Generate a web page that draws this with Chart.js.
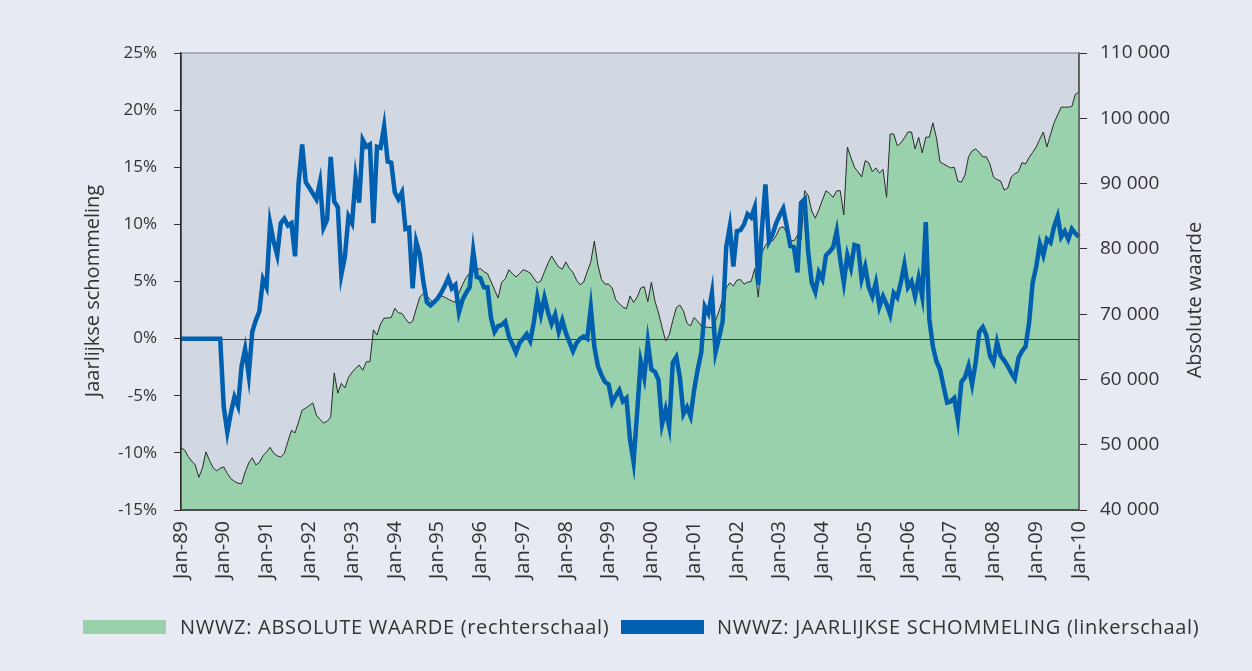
<!DOCTYPE html>
<html><head><meta charset="utf-8">
<script src="https://cdn.jsdelivr.net/npm/chart.js@4.4.1/dist/chart.umd.min.js"></script>
<style>
html,body{margin:0;padding:0;background:#e7eaf2;}
#wrap{position:relative;width:1252px;height:671px;background:#e7eaf2;font-family:'Open Sans',sans-serif;color:#333;overflow:hidden;}
canvas{position:absolute;left:0;top:0;}
.leg{position:absolute;top:613px;font-size:20px;letter-spacing:0.7px;line-height:28px;color:#333;white-space:nowrap;}
.box{position:absolute;top:620px;width:83px;height:14px;}
</style></head>
<body><div id="wrap"><canvas id="c" width="1252" height="671"></canvas>
<div class="box" style="left:83px;background:#99d1ac"></div>
<div class="leg" style="left:180px">NWWZ: ABSOLUTE WAARDE (rechterschaal)</div>
<div class="box" style="left:621px;background:#005fae"></div>
<div class="leg" style="left:717px">NWWZ: JAARLIJKSE SCHOMMELING (linkerschaal)</div>
</div>
<script>
const monthNames = ['Jan','Feb','Mar','Apr','May','Jun','Jul','Aug','Sep','Oct','Nov','Dec'];
const yearLabels = ['89','90','91','92','93','94','95','96','97','98','99','00','01','02','03','04','05','06','07','08','09','10'];

// Absolute waarde (right axis), monthly Jan-89 .. Jan-10
const absoluteWaarde = [
 49500,49200,48200,47500,46900,45000,46400,48900,47600,46500,46000,46400,
 46600,45600,44800,44400,44100,44000,45800,47200,48000,46900,47300,48300,
 48900,49600,48700,48300,48100,48700,50500,52200,51800,53500,55300,55600,
 56000,56400,54500,53900,53300,53600,54200,61000,57900,59400,58700,60300,
 61100,61700,62200,61400,62700,62700,67600,66800,68500,69400,69400,69500,
 70900,70200,70100,69300,68600,68900,70800,72600,73200,72800,72200,71700,
 72900,72800,72600,72300,72000,71800,73200,74500,75600,76300,76500,76800,
 77000,76500,76200,75000,73700,72500,74900,75400,76800,76200,75700,76200,
 76800,76600,76300,75500,74800,75100,76500,77800,78900,78000,77200,76900,
 78000,77000,76400,75200,74500,74900,76500,78000,81200,77500,75300,74600,
 74600,74000,72200,71600,71100,70800,72800,71800,72600,74000,74200,71900,
 74900,72000,70200,68000,65900,66800,69000,71000,71400,70500,68600,68200,
 69500,68900,68200,68000,68000,67900,69000,70500,72300,74000,74800,74300,
 75200,75300,74600,74900,75000,77000,72600,79400,80500,81300,81200,82000,
 83200,83400,82500,81400,81200,82100,81400,88900,88200,85800,84700,86000,
 87500,88900,88500,87900,88900,88900,85200,95600,94000,92500,91800,91000,
 93500,93200,91800,92400,91600,92200,87900,97600,97600,95800,96200,97000,
 97900,97900,95300,97100,94700,97100,97100,99300,97000,93300,93000,92700,
 92400,92500,90400,90200,91300,94100,95000,95300,94800,94100,94100,93000,
 91000,90600,90400,89000,89300,91000,91500,91800,93200,93000,94000,94800,
 95600,96800,97900,95600,97500,99300,100500,101700,101700,101700,101800,103700,
 104000
];

// Jaarlijkse schommeling in % (left axis)
const jaarlijkseSchommeling = [
 0,0,0,0,0,0,0,0,0,0,0,0,
 -6.0,-8.2,-6.5,-5.1,-5.9,-2.4,-0.9,-3.2,0.6,1.6,2.4,5.2,
 4.5,10.1,8.5,7.3,10.1,10.5,9.9,10.1,7.2,13.6,17.0,13.7,
 13.2,12.7,12.2,13.7,9.7,10.4,15.9,12.0,11.5,5.6,7.2,10.7,
 10.1,14.1,11.9,17.4,16.8,17.0,10.1,16.8,16.7,18.6,15.5,15.4,
 12.8,12.2,12.8,9.6,9.7,4.4,8.5,7.4,5.0,3.2,2.9,3.2,
 3.5,4.0,4.6,5.3,4.4,4.7,2.3,3.4,4.0,4.5,7.7,5.4,
 5.3,4.5,4.5,1.8,0.6,1.1,1.2,1.5,0.2,-0.5,-1.2,-0.4,
 0.0,0.4,-0.2,1.4,3.6,2.1,3.6,2.3,1.3,2.1,0.6,1.6,
 0.5,-0.3,-1.1,-0.4,0.0,0.2,0.0,2.7,-0.7,-2.4,-3.2,-3.8,
 -4.0,-5.6,-5.0,-4.5,-5.5,-5.2,-8.8,-10.8,-6.5,-2.0,-3.4,-0.3,
 -2.7,-2.9,-3.6,-7.5,-6.2,-7.7,-2.1,-1.6,-3.4,-6.6,-6.0,-6.8,
 -4.5,-2.7,-1.2,2.8,2.2,4.0,-1.2,0.1,1.5,8.0,9.8,6.3,
 9.4,9.5,10.0,10.9,10.6,11.5,4.7,9.5,13.5,8.5,9.1,10.1,
 10.8,11.4,9.8,8.1,8.0,5.8,11.9,12.2,7.6,4.9,4.1,5.8,
 5.2,7.3,7.6,8.0,9.4,6.9,4.9,7.3,6.2,8.2,8.1,5.2,
 6.3,4.5,3.7,4.9,2.8,3.7,3.0,2.1,4.0,3.6,4.9,6.5,
 4.5,5.0,3.7,5.3,3.7,10.2,1.7,-0.7,-2.0,-2.7,-4.2,-5.6,
 -5.5,-5.2,-7.1,-3.8,-3.4,-2.4,-4.0,-2.1,0.6,1.0,0.3,-1.5,
 -2.1,-0.3,-1.5,-1.9,-2.4,-3.0,-3.5,-1.7,-1.1,-0.7,1.4,4.9,
 6.3,8.3,7.3,8.7,8.4,9.8,10.7,8.9,9.4,8.7,9.6,9.2,
 8.9
];

const labels = [];
for (let y = 0; y < yearLabels.length; y++) {
  for (let m = 0; m < 12; m++) {
    if (labels.length < absoluteWaarde.length) labels.push(monthNames[m] + '-' + yearLabels[y]);
  }
}

const textColor = '#333';
const fontFamily = "'Open Sans', sans-serif";

const bgPlugin = {
  id: 'plotbg',
  beforeDraw(chart) {
    const {ctx, chartArea: a} = chart;
    ctx.save();
    ctx.fillStyle = '#d2d8e2';
    ctx.fillRect(a.left, a.top, a.right - a.left, a.bottom - a.top);
    ctx.restore();
  }
};
const zeroPlugin = {
  id: 'zeroline',
  afterDatasetDraw(chart, args) {
    if (args.index !== 1) return;
    const {ctx, chartArea: a} = chart;
    const y = Math.round(chart.scales.y.getPixelForValue(0)) + 0.5;
    ctx.save();
    ctx.strokeStyle = '#3a3a3a';
    ctx.lineWidth = 1.2;
    ctx.beginPath(); ctx.moveTo(a.left, y); ctx.lineTo(a.right, y); ctx.stroke();
    ctx.restore();
  }
};
const framePlugin = {
  id: 'frame',
  afterDraw(chart) {
    const {ctx, chartArea: a} = chart;
    ctx.save();
    ctx.strokeStyle = '#9a9ca2';
    ctx.lineWidth = 1.5;
    ctx.beginPath(); ctx.moveTo(a.left, a.top); ctx.lineTo(a.right, a.top); ctx.stroke();
    ctx.strokeStyle = '#2a2a2a';
    ctx.lineWidth = 1.3;
    ctx.beginPath(); ctx.moveTo(a.left, a.top); ctx.lineTo(a.left, a.bottom); ctx.lineTo(a.right, a.bottom); ctx.stroke();
    ctx.strokeStyle = '#5a5a5a';
    ctx.lineWidth = 1.5;
    ctx.beginPath(); ctx.moveTo(a.right, a.top); ctx.lineTo(a.right, a.bottom); ctx.stroke();
    ctx.fillStyle = textColor;
    ctx.font = "20px " + fontFamily;
    ctx.textAlign = 'center';
    ctx.textBaseline = 'middle';
    ctx.save(); ctx.translate(93, 291); ctx.rotate(-Math.PI/2); ctx.fillText('Jaarlijkse schommeling', 0, 0); ctx.restore();
    ctx.save(); ctx.translate(1195, 300); ctx.rotate(-Math.PI/2); ctx.fillText('Absolute waarde', 0, 0); ctx.restore();
    ctx.restore();
  }
};

new Chart(document.getElementById('c'), {
  type: 'line',
  data: {
    labels: labels,
    datasets: [
      {
        label: 'NWWZ: JAARLIJKSE SCHOMMELING (linkerschaal)',
        data: jaarlijkseSchommeling,
        yAxisID: 'y',
        borderColor: '#005fae',
        borderWidth: 4.5,
        pointRadius: 0,
        tension: 0,
        fill: false
      },
      {
        label: 'NWWZ: ABSOLUTE WAARDE (rechterschaal)',
        data: absoluteWaarde,
        yAxisID: 'y1',
        borderColor: '#2a2a2a',
        borderWidth: 1,
        backgroundColor: '#99d1ac',
        pointRadius: 0,
        tension: 0,
        fill: 'start'
      }
    ]
  },
  options: {
    responsive: false,
    animation: false,
    devicePixelRatio: 1,
    layout: { padding: { top: 53, left: 0, right: 0, bottom: 0 } },
    plugins: { legend: { display: false }, tooltip: { enabled: false } },
    scales: {
      x: {
        type: 'category',
        grid: { display: true, drawOnChartArea: false, drawTicks: false },
        border: { display: true, color: '#2a2a2a', width: 1.3 },
        ticks: {
          autoSkip: false, maxRotation: 90, minRotation: 90, padding: 11,
          color: textColor, font: { family: fontFamily, size: 20 },
          callback: function(v, i) { return i % 12 === 0 ? this.getLabelForValue(v) : null; }
        },
        afterFit(s) { s.height = 161; }
      },
      y: {
        position: 'left', min: -15, max: 25,
        ticks: { stepSize: 5, padding: 17, color: textColor, font: { family: fontFamily, size: 17 },
          callback: v => v + '%' },
        grid: { drawOnChartArea: false, drawTicks: true, tickLength: 7, color: '#333' },
        border: { display: true, color: '#2a2a2a', width: 1.3 },
        afterFit(s) { s.width = 181; }
      },
      y1: {
        position: 'right', min: 40000, max: 110000,
        ticks: { stepSize: 10000, padding: 13, color: textColor, font: { family: fontFamily, size: 19 },
          callback: v => String(v).replace(/\B(?=(\d{3})+(?!\d))/g, ' ') },
        grid: { drawOnChartArea: false, drawTicks: true, tickLength: 8, color: '#333' },
        border: { display: true, color: '#555', width: 1.5 },
        afterFit(s) { s.width = 173; }
      }
    }
  },
  plugins: [bgPlugin, zeroPlugin, framePlugin]
});
</script>
</body></html>
